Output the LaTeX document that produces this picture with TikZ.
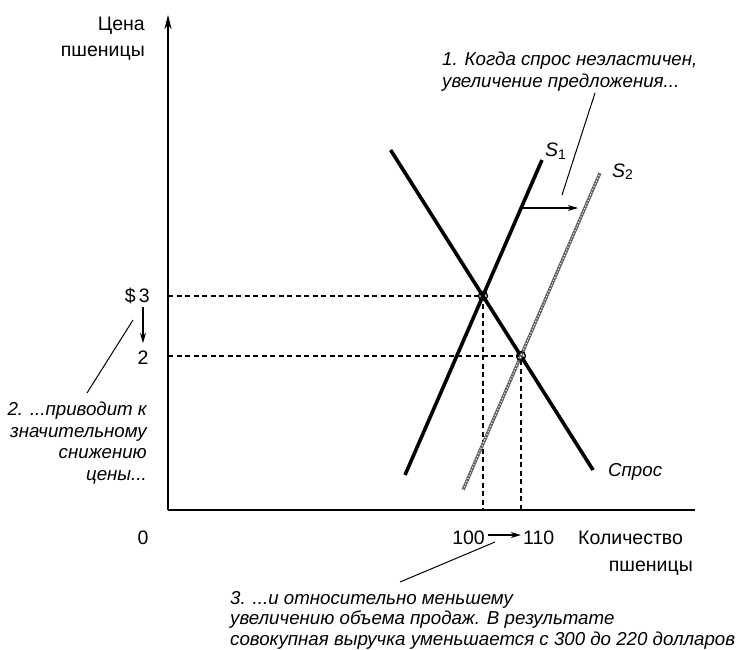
\documentclass[tikz,border=0pt]{standalone}
\usepackage{fontspec}
\setmainfont{Liberation Sans}
\usetikzlibrary{arrows.meta}
\begin{document}
\begin{tikzpicture}[x=1pt,y=-1pt,
  axis/.style={line width=1.3pt},
  curve/.style={line width=3.6pt},
  curvetwo/.style={line width=3.2pt, draw=black!62},
  texture/.style={line width=1.1pt, draw=white, dash pattern=on 1pt off 2pt},
  guide/.style={line width=1.1pt, dash pattern=on 5pt off 3.5pt},
  leader/.style={line width=1pt},
  shiftarrow/.style={line width=1.1pt, -{Stealth[length=10pt,width=6pt,inset=3pt]}},
  eqmark/.style={circle, draw, line width=1.3pt, minimum size=9pt, inner sep=0pt},
  lab/.style={font=\fontsize{19.5}{22}\selectfont, inner sep=0pt},
  note/.style={font=\fontsize{18.7}{21.5}\selectfont\itshape, inner sep=0pt},
]
\useasboundingbox (0,0) rectangle (741,650);
% axes
\coordinate (O) at (168,510);
\coordinate (Ytop) at (168,15);
\coordinate (Xend) at (695,510);
\draw[axis] (O) -- (Xend);
\draw[axis, -{Stealth[length=14pt,width=7pt,inset=4pt]}] (O) -- (Ytop);
% equilibrium points
\coordinate (E1) at (483,296);
\coordinate (E2) at (521,356);
% guides
\coordinate (P3) at (168,296);
\coordinate (P2) at (168,356);
\coordinate (Q1) at (483,510);
\coordinate (Q2) at (521,510);
\draw[guide] (P3) -- (E1) -- (Q1);
\draw[guide] (P2) -- (E2) -- (Q2);
% curves
\coordinate (Dtop) at (390.6,150);
\coordinate (Dbot) at (593,470);
\coordinate (S1bot) at (405,475);
\coordinate (S1top) at (542,160);
\coordinate (S2bot) at (463,490);
\coordinate (S2top) at (600,173);
\draw[curve] (Dtop) -- (Dbot);
\draw[curve] (S1bot) -- (S1top);
\draw[curvetwo] (S2bot) -- (S2top);
\draw[texture] (S2bot) -- (S2top);
\node[eqmark] (m1) at (E1) {};
\node[eqmark] (m2) at (E2) {};
% axis labels
\node[lab, anchor=base east] (ylab1) at (145,31) {Цена};
\node[lab, anchor=base east] (ylab2) at (145,57) {пшеницы};
\node[lab, anchor=base west] (xlab1) at (578,544) {Количество};
\node[lab, anchor=base east] (xlab2) at (693,571) {пшеницы};
\node[lab, anchor=base] (zero) at (143,544) {0};
\node[lab, anchor=base east] (p3) at (150,302) {\$\,3};
\node[lab, anchor=base] (p2) at (143,364) {2};
\node[lab, anchor=base east] (q100) at (485,544) {100};
\node[lab, anchor=base west] (q110) at (523,544) {110};
\node[lab, anchor=base west] (s1) at (545,157) {\textit{S}\raisebox{-0.25ex}{\fontsize{14}{14}\selectfont 1}};
\node[lab, anchor=base west] (s2) at (612,177) {\textit{S}\raisebox{-0.25ex}{\fontsize{14}{14}\selectfont 2}};
\node[note, anchor=base west] (dem) at (608,476) {Спрос};
% arrows
\coordinate (pa) at (143,307);
\coordinate (pb) at (143,343);
\draw[shiftarrow] (pa) -- (pb);
\coordinate (qa) at (488,535);
\coordinate (qb) at (521,535);
\draw[shiftarrow] (qa) -- (qb);
\coordinate (sa) at (523,208);
\coordinate (sb) at (578,208);
\draw[shiftarrow] (sa) -- (sb);
% notes
\node[note, anchor=north west, align=left] (n1) at (442,52)
  {1. Когда спрос неэластичен,\\увеличение предложения...};
\node[note, anchor=north east, align=right] (n2) at (147,402)
  {2. ...приводит к\\значительному\\снижению\\цены...};
\node[note, anchor=north west, align=left, font=\fontsize{18.7}{20.5}\selectfont\itshape] (n3) at (230,591)
  {3. ...и относительно меньшему\\увеличению объема продаж. В результате\\совокупная выручка уменьшается с 300 до 220 долларов};
% leaders
\coordinate (l1a) at (595,93);
\coordinate (l1b) at (562,195);
\draw[leader] (l1a) -- (l1b);
\coordinate (l2a) at (87,393);
\coordinate (l2b) at (133,320);
\draw[leader] (l2a) -- (l2b);
\coordinate (l3a) at (400,582);
\coordinate (l3b) at (495,542);
\draw[leader] (l3a) -- (l3b);
\end{tikzpicture}
\end{document}
